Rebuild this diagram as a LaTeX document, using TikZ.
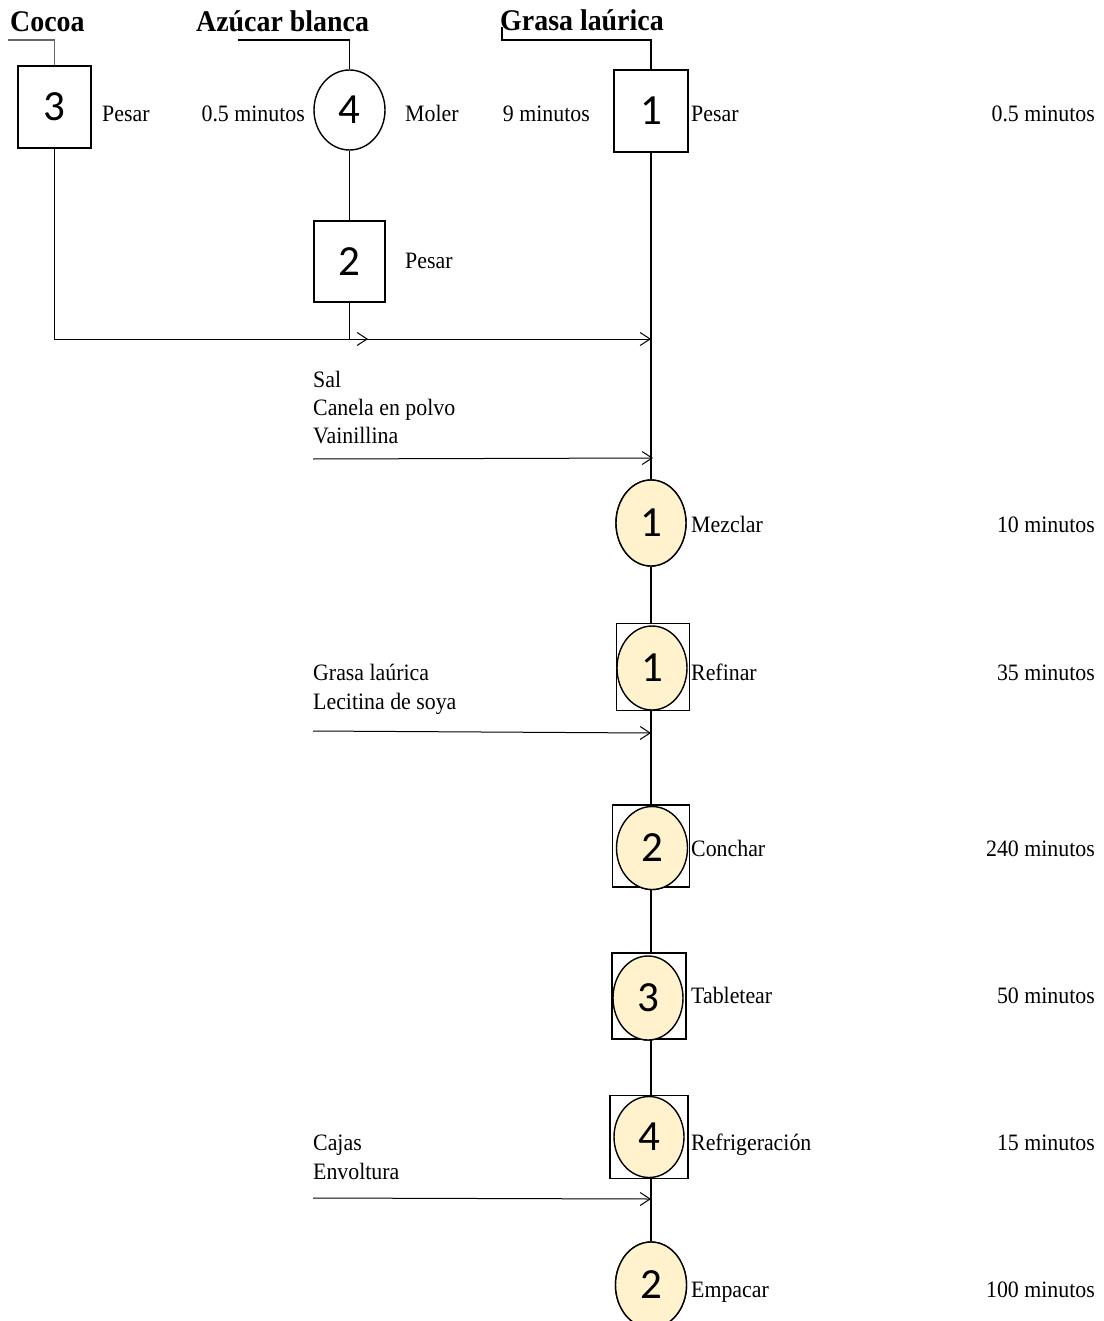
\documentclass[tikz,border=0pt]{standalone}
\usepackage{fontspec}
\setmainfont{Liberation Serif}
\newfontfamily\labfont[FakeStretch=0.93]{Liberation Serif}
\newfontfamily\numfont{Carlito}
\usetikzlibrary{shapes.geometric,arrows.meta}
\definecolor{cream}{HTML}{FFF2CC}
\begin{document}
\begin{tikzpicture}[x=1pt,y=-1pt,
  pbox/.style={rectangle,draw,line width=1.4pt,inner sep=0pt,fill=white,font=\numfont\fontsize{43}{43}\selectfont},
  pcirc/.style={ellipse,draw,line width=1.4pt,inner sep=0pt,fill=cream,font=\numfont\fontsize{43}{43}\selectfont},
  wcirc/.style={ellipse,draw,line width=1.4pt,inner sep=0pt,fill=white,font=\numfont\fontsize{43}{43}\selectfont},
  lab/.style={font=\labfont\fontsize{23.5}{26}\selectfont,inner sep=0pt,anchor=base west},
  tim/.style={font=\labfont\fontsize{23.5}{26}\selectfont,inner sep=0pt,anchor=base east},
  ttl/.style={font=\labfont\bfseries\fontsize{30}{30}\selectfont,inner sep=0pt,anchor=base west},
  flow/.style={line width=1.3pt},
  feed/.style={line width=1pt,-{Straight Barb[length=10pt,width=13pt]}},
  lead/.style={line width=1.2pt,black!60}]
\useasboundingbox (0,0) rectangle (1103,1321);

% titles
\node[ttl] (tcocoa) at (10,32) {Cocoa};
\node[ttl] (tazu) at (196,32) {Azúcar blanca};
\node[ttl] (tgrasa) at (500,31) {Grasa laúrica};

% top operations
\node[pbox,minimum width=73pt,minimum height=82pt] (b3) at (54.5,107) {3};
\node[wcirc,minimum width=71pt,minimum height=80pt] (c4) at (349.5,110) {4};
\node[pbox,minimum width=71pt,minimum height=81pt] (b2) at (349.5,261.5) {2};
\node[pbox,minimum width=74pt,minimum height=82pt] (b1) at (651,111) {1};

% leaders
\coordinate (lc) at (8,40);
\coordinate (la) at (238,40);
\coordinate (lg) at (502,27);
\draw[lead] (lc) -| (b3.north);
\draw[flow] (la) -| (c4.north);
\draw[flow] (lg) |- (651,40) -- (b1.north);

% operations on main line (placeholders for geometry)
\node[pcirc,minimum width=70pt,minimum height=86pt] (o1) at (651,523) {};
\node[pbox,minimum width=73pt,minimum height=87pt] (rb) at (653,667) {};
\node[pcirc,minimum width=70pt,minimum height=84pt] (rc) at (652,668) {};
\node[pbox,minimum width=77pt,minimum height=82pt] (cb) at (651,846) {};
\node[pcirc,minimum width=71pt,minimum height=83pt] (cc) at (652,848) {};
\node[pbox,minimum width=74pt,minimum height=86pt] (tb) at (649,996) {};
\node[pcirc,minimum width=70pt,minimum height=84pt] (tc) at (648,998) {};
\node[pbox,minimum width=78pt,minimum height=83pt] (fb) at (649,1137) {};
\node[pcirc,minimum width=70pt,minimum height=81pt] (fc) at (649,1137) {};
\node[pcirc,minimum width=71pt,minimum height=86pt] (o2) at (651,1285) {};

% main line
\draw[flow] (b1.south) -- (o1.north);
\draw[flow] (o1.south) -- (rb.north -| o1.south);
\draw[flow] (rb.south -| o1.south) -- (cb.north);
\draw[flow] (cb.south) -- (tb.north -| cb.south);
\draw[flow] (tb.south -| cb.south) -- (fb.north -| cb.south);
\draw[flow] (fb.south -| cb.south) -- (o2.north);

% nodes drawn over the line
\node[pcirc,minimum width=70pt,minimum height=86pt] at (o1) {1};
\node[pbox,minimum width=73pt,minimum height=87pt] at (rb) {};
\node[pcirc,minimum width=70pt,minimum height=84pt] at (rc) {1};
\node[pbox,minimum width=77pt,minimum height=82pt] at (cb) {};
\node[pcirc,minimum width=71pt,minimum height=83pt] at (cc) {2};
\node[pbox,minimum width=74pt,minimum height=86pt] at (tb) {};
\node[pcirc,minimum width=70pt,minimum height=84pt] at (tc) {3};
\node[pbox,minimum width=78pt,minimum height=83pt] at (fb) {};
\node[pcirc,minimum width=70pt,minimum height=81pt] at (fc) {4};
\node[pcirc,minimum width=71pt,minimum height=86pt] at (o2) {2};

% side connectors
\draw[flow] (c4.south) -- (b2.north);
\coordinate (j1) at (651,339);
\coordinate (ja) at (368,339);
\coordinate (j2) at (653,458);
\coordinate (j3) at (651,733);
\coordinate (j4) at (651,1199);
\coordinate (s2) at (313,459);
\coordinate (s3) at (313,731);
\coordinate (s4) at (313,1198);
\draw[feed] (b3.south) |- (j1);
\draw[feed] (b2.south) |- (ja);
\draw[feed] (s2) -- (j2);
\draw[feed] (s3) -- (j3);
\draw[feed] (s4) -- (j4);

% labels
\node[lab] (l1) at (102,122) {Pesar};
\node[tim] (t4) at (305,122) {0.5 minutos};
\node[lab] (l4) at (405,122) {Moler};
\node[tim] (t1) at (590,122) {9 minutos};
\node[lab] (l1b) at (691,122) {Pesar};
\node[tim] (t1b) at (1095,122) {0.5 minutos};
\node[lab] (l2) at (405,269) {Pesar};

\node[lab] (i1) at (313,387) {Sal};
\node[lab] (i2) at (313,415) {Canela en polvo};
\node[lab] (i3) at (313,443) {Vainillina};
\node[lab] (i4) at (313,680) {Grasa laúrica};
\node[lab] (i5) at (313,709) {Lecitina de soya};
\node[lab] (i6) at (313,1150) {Cajas};
\node[lab] (i7) at (313,1179) {Envoltura};

\node[lab] (m1) at (691,532) {Mezclar};
\node[tim] (m1t) at (1095,532) {10 minutos};
\node[lab] (m2) at (691,680) {Refinar};
\node[tim] (m2t) at (1095,680) {35 minutos};
\node[lab] (m3) at (691,856) {Conchar};
\node[tim] (m3t) at (1095,856) {240 minutos};
\node[lab] (m4) at (691,1003) {Tabletear};
\node[tim] (m4t) at (1095,1003) {50 minutos};
\node[lab] (m5) at (691,1150) {Refrigeración};
\node[tim] (m5t) at (1095,1150) {15 minutos};
\node[lab] (m6) at (691,1297) {Empacar};
\node[tim] (m6t) at (1095,1297) {100 minutos};
\end{tikzpicture}
\end{document}
